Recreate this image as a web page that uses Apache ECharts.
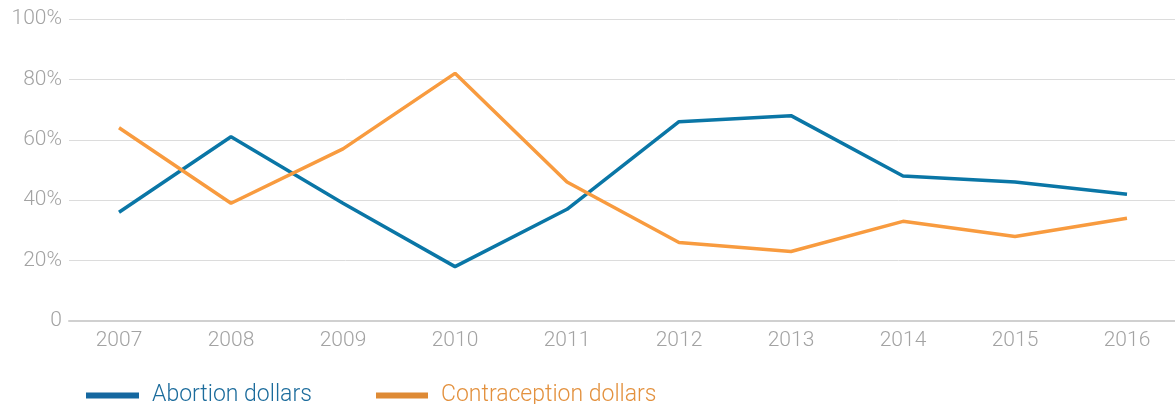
<!DOCTYPE html>
<html>
<head>
    <meta charset="utf-8" />
    <title>Abortion vs contraception dollars</title>
    <script src="https://cdn.jsdelivr.net/npm/echarts@6/dist/echarts.min.js"></script>
    <style>
        html, body { margin: 0; padding: 0; background: #fff; }
        #main { width: 1175px; height: 404px; }
    </style>
</head>
<body>
    <div id="main"></div>
    <script type="text/javascript">
        // data (percent)
        var years = ['2007', '2008', '2009', '2010', '2011', '2012', '2013', '2014', '2015', '2016'];
        var abortion = [36, 61, 39, 18, 37, 66, 68, 48, 46, 42];
        var contraception = [64, 39, 57, 82, 46, 26, 23, 33, 28, 34];
        var yTicks = [0, 20, 40, 60, 80, 100];

        var blue = '#0a76a6';
        var orange = '#f89b3f';
        var grey = '#a3a3a3';
        var font = 'Roboto, "Liberation Sans", sans-serif';

        var myChart = echarts.init(document.getElementById('main'));

        var option = {
            animation: false,
            // grid 0: wide one carrying the y labels, split lines and base line
            // grid 1: the data lines, between the first and last year
            grid: [
                { left: 69, right: 0, top: 19, bottom: 83 },
                { left: 119, right: 48, top: 19, bottom: 83 }
            ],
            xAxis: [{
                gridIndex: 0,
                type: 'value',
                min: 0,
                max: 1,
                axisLine: { show: true, lineStyle: { color: '#d0d0d0', width: 2 } },
                axisTick: { show: false },
                axisLabel: { show: false },
                splitLine: { show: false }
            }, {
                gridIndex: 1,
                type: 'category',
                data: years,
                boundaryGap: false,
                axisLine: { show: false },
                axisTick: { show: false },
                splitLine: { show: false },
                axisLabel: {
                    color: grey,
                    fontFamily: font,
                    fontWeight: 300,
                    fontSize: 21,
                    margin: 9
                }
            }],
            yAxis: [{
                gridIndex: 0,
                type: 'value',
                min: yTicks[0],
                max: yTicks[yTicks.length - 1],
                interval: 20,
                axisLine: { show: false },
                axisTick: { show: false },
                splitLine: { lineStyle: { color: '#dcdcdc', width: 1 } },
                axisLabel: {
                    color: grey,
                    fontFamily: font,
                    fontWeight: 300,
                    fontSize: 21,
                    margin: 7,
                    formatter: function (v) {
                        return v === 0 ? '0' : v + '%';
                    }
                }
            }, {
                gridIndex: 1,
                type: 'value',
                min: yTicks[0],
                max: yTicks[yTicks.length - 1],
                show: false
            }],
            legend: [{
                left: 81,
                top: 379,
                icon: 'rect',
                itemWidth: 53,
                itemHeight: 6,
                selectedMode: false,
                data: [{
                    name: 'Abortion dollars',
                    itemStyle: { color: '#1568a0' },
                    textStyle: { color: '#1c6c9c' }
                }],
                textStyle: { fontFamily: font, fontWeight: 300, fontSize: 23, padding: [0, 0, 9, 8] }
            }, {
                left: 371,
                top: 379,
                icon: 'rect',
                itemWidth: 52,
                itemHeight: 6,
                selectedMode: false,
                data: [{
                    name: 'Contraception dollars',
                    itemStyle: { color: '#de8a35' },
                    textStyle: { color: '#e3913e' }
                }],
                textStyle: { fontFamily: font, fontWeight: 300, fontSize: 23, padding: [0, 0, 9, 8] }
            }],
            series: [{
                name: 'Abortion dollars',
                type: 'line',
                xAxisIndex: 1,
                yAxisIndex: 1,
                data: abortion,
                showSymbol: false,
                lineStyle: { color: blue, width: 3.5 },
                itemStyle: { color: blue }
            }, {
                name: 'Contraception dollars',
                type: 'line',
                xAxisIndex: 1,
                yAxisIndex: 1,
                data: contraception,
                showSymbol: false,
                lineStyle: { color: orange, width: 3.5 },
                itemStyle: { color: orange }
            }]
        };

        myChart.setOption(option);
    </script>
</body>
</html>
